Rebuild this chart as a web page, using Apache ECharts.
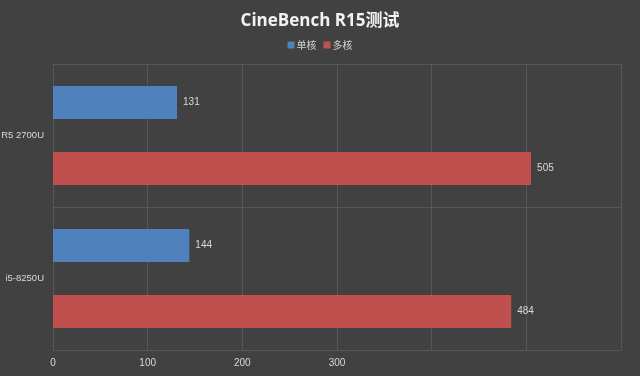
<!DOCTYPE html>
<html>
<head>
<meta charset="utf-8">
<script src="https://cdn.jsdelivr.net/npm/echarts@6/dist/echarts.min.js"></script>
<style>
  html, body { margin: 0; padding: 0; background: #414141; }
  #main { width: 640px; height: 376px; }
</style>
</head>
<body>
<div id="main"></div>
<script>
'use strict'
var categories = ['R5 2700U', 'i5-8250U']
var singleCore = [131, 144]
var multiCore = [505, 484]
var seriesNames = ['单核', '多核']
var shownTicks = [0, 100, 200, 300]

var chart = echarts.init(document.getElementById('main'))
var option = {
  backgroundColor: '#414141',
  title: {
    text: 'CineBench R15测试',
    left: 'center',
    top: 8,
    textStyle: {
      color: '#f2f2f2',
      fontSize: 17,
      fontWeight: 'bold',
      fontFamily: 'Open Sans, Noto Sans CJK SC'
    }
  },
  legend: {
    data: seriesNames,
    top: 35,
    left: 'center',
    itemWidth: 7,
    itemHeight: 7,
    itemGap: 7,
    icon: 'rect',
    textStyle: { color: '#d0d0d0', fontSize: 10, fontFamily: 'Noto Sans CJK SC', padding: [0, 0, 0, -3] }
  },
  grid: {
    left: 53,
    right: 19,
    top: 64,
    bottom: 26,
    containLabel: false,
    outerBoundsMode: 'none'
  },
  xAxis: {
    type: 'value',
    min: 0,
    max: 600,
    interval: 100,
    axisLine: { show: false },
    axisTick: { show: false },
    axisLabel: {
      color: '#d9d9d9',
      fontSize: 10,
      margin: 8,
      formatter: function(v) {
        return shownTicks.indexOf(v) >= 0 ? String(v) : ''
      }
    },
    splitLine: { lineStyle: { color: '#575757' } }
  },
  yAxis: {
    type: 'category',
    data: categories,
    inverse: true,
    axisLine: { show: false },
    axisTick: { show: false },
    axisLabel: { color: '#d9d9d9', fontSize: 9.5, margin: 9 },
    splitLine: { show: true, lineStyle: { color: '#575757' } }
  },
  series: [
    {
      name: seriesNames[0],
      type: 'bar',
      data: singleCore,
      barWidth: 33,
      barGap: '100%',
      itemStyle: { color: '#4f81bd' },
      label: { show: true, position: 'right', color: '#d9d9d9', fontSize: 10, distance: 6 }
    },
    {
      name: seriesNames[1],
      type: 'bar',
      data: multiCore,
      barWidth: 33,
      barGap: '100%',
      itemStyle: { color: '#c0504d' },
      label: { show: true, position: 'right', color: '#d9d9d9', fontSize: 10, distance: 6 }
    }
  ]
}
chart.setOption(option)
</script>
</body>
</html>
